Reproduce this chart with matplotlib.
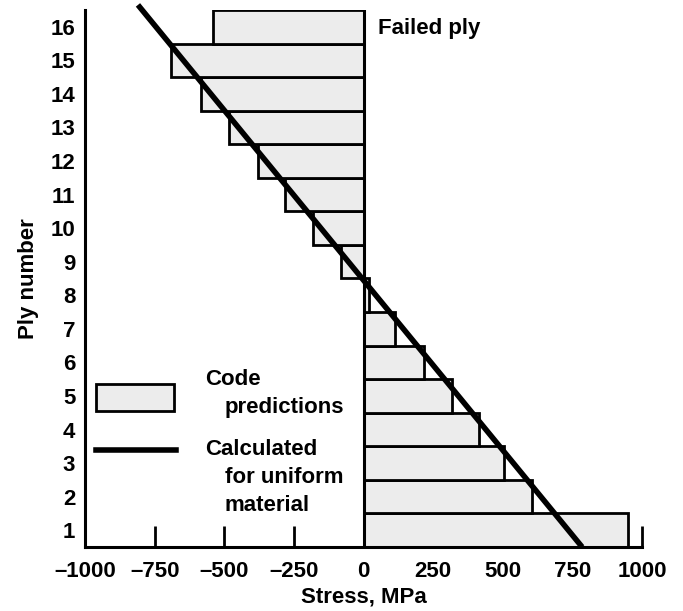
import numpy as np
import matplotlib.pyplot as plt
from matplotlib.patches import Rectangle

plt.rcParams["font.family"] = ["Liberation Sans", "DejaVu Sans"]
plt.rcParams["font.weight"] = "bold"

# ============================================================
# Data
# ============================================================
ply = np.arange(1, 17)
stress_code = [950, 605, 505, 413, 316, 216, 112, 20,
               -82, -183, -283, -380, -484, -585, -690, -540]
# straight line for uniform material (end points)
line_stress = [785, -810]
line_ply = [0.5, 16.65]

x_ticks = [-1000, -750, -500, -250, 0, 250, 500, 750, 1000]

FS = 16

# ============================================================
# Plot
# ============================================================
fig = plt.figure(figsize=(6.83, 6.11), dpi=100)
ax = fig.add_axes([0.1245, 0.1047, 0.8155, 0.879])

ax.barh(ply, stress_code, height=1.0, color="#ececec",
        edgecolor="black", linewidth=2.0, zorder=2)
ax.axvline(0, color="black", linewidth=2.2, zorder=3)
ax.plot(line_stress, line_ply, color="black", linewidth=4, zorder=4,
        clip_on=False, solid_capstyle="butt")

ax.set_xlim(-1000, 1000)
ax.set_ylim(0.5, 16.5)
ax.set_xticks(x_ticks)
ax.set_xticklabels([f"{t:d}".replace("-", "\u2013") for t in x_ticks],
                   fontsize=FS, fontweight="bold")
ax.set_yticks(ply)
ax.set_yticklabels([str(p) for p in ply], fontsize=FS, fontweight="bold")
ax.tick_params(axis="x", direction="in", length=15, width=2, pad=10)
ax.tick_params(axis="y", length=0, pad=7)

for side in ["top", "right"]:
    ax.spines[side].set_visible(False)
ax.spines["left"].set_linewidth(2.2)
ax.spines["bottom"].set_linewidth(2.2)

ax.set_xlabel("Stress, MPa", fontsize=FS, fontweight="bold", labelpad=3)
ax.set_ylabel("Ply number", fontsize=FS, fontweight="bold", labelpad=8)

# legend drawn by hand, in axes fraction
ax.add_patch(Rectangle((0.0195, 0.254), 0.14, 0.05, transform=ax.transAxes,
                       facecolor="#ececec", edgecolor="black", linewidth=2,
                       zorder=5))
ax.plot([0.0195, 0.163], [0.18, 0.18], transform=ax.transAxes,
        color="black", linewidth=4, zorder=5)
legend_lines = [
    (0.215, 0.311, "Code"),
    (0.251, 0.259, "predictions"),
    (0.215, 0.181, "Calculated"),
    (0.251, 0.130, "for uniform"),
    (0.251, 0.078, "material"),
]
for lx, ly, txt in legend_lines:
    ax.text(lx, ly, txt, transform=ax.transAxes, fontsize=FS,
            fontweight="bold", va="center", ha="left")

ax.text(0.526, 0.966, "Failed ply", transform=ax.transAxes, fontsize=FS,
        fontweight="bold", va="center", ha="left")

fig.savefig("out.png", dpi=100)
